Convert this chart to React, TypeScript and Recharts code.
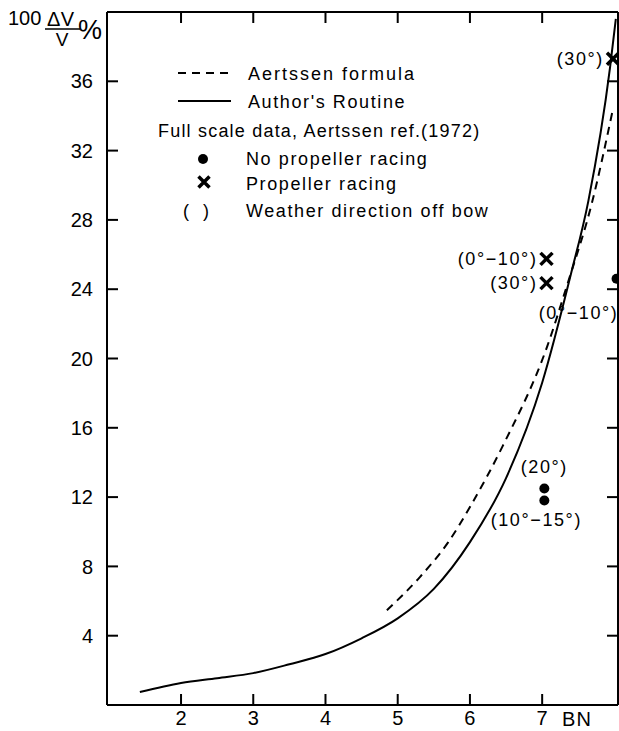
import React from 'react';
import { ComposedChart, Line, Scatter, XAxis, YAxis } from 'recharts';

const FONT = '"Liberation Sans", Arial, Helvetica, sans-serif';

// Beaufort number axis and speed-loss axis
const X_TICKS = [2, 3, 4, 5, 6, 7];
const Y_TICKS = [4, 8, 12, 16, 20, 24, 28, 32, 36];

// Author's routine (solid)
const ROUTINE_BN = [1.43, 2.0, 2.5, 3.0, 3.5, 4.0, 4.5, 5.0, 5.5, 6.0, 6.5, 7.0, 7.4, 7.64, 7.94, 8.02];
const ROUTINE_DV = [0.75, 1.27, 1.55, 1.84, 2.35, 2.94, 3.85, 5.0, 6.7, 9.4, 13.1, 18.6, 24.9, 29.1, 36.8, 39.6];

// Aertssen formula (dashed)
const FORMULA_BN = [4.85, 5.31, 5.7, 6.01, 6.46, 7.07, 7.35, 7.69, 7.97];
const FORMULA_DV = [5.47, 7.4, 9.4, 11.5, 15.0, 20.7, 24.3, 29.0, 34.2];

// full scale data, no propeller racing
const CALM_BN = [7.03, 7.03, 8.03];
const CALM_DV = [12.5, 11.8, 24.6];
const CALM_TAGS = ['(20°)', '(10°−15°)', '(0°−10°)'];
const CALM_PLACE = ['above', 'below', 'belowLeft'];

// full scale data, propeller racing
const RACING_BN = [7.06, 7.06, 7.98];
const RACING_DV = [25.75, 24.35, 37.3];
const RACING_TAGS = ['(0°−10°)', '(30°)', '(30°)'];
const RACING_PLACE = ['left', 'left', 'left'];

const routine = ROUTINE_BN.map((bn, i) => ({ bn, dv: ROUTINE_DV[i] }));
const formula = FORMULA_BN.map((bn, i) => ({ bn, dv: FORMULA_DV[i] }));
const calm = CALM_BN.map((bn, i) => ({ bn, dv: CALM_DV[i], tag: CALM_TAGS[i], place: CALM_PLACE[i] }));
const racing = RACING_BN.map((bn, i) => ({ bn, dv: RACING_DV[i], tag: RACING_TAGS[i], place: RACING_PLACE[i] }));

const X_DOMAIN: [number, number] = [0.975, 8.05];
const Y_DOMAIN: [number, number] = [0, 40];

// chart box and the plot frame that follows from it
const W = 619;
const H = 731;
const MARGIN = { top: 11, right: 0, bottom: 0, left: 47 };
const LEFT_W = 60;
const BOTTOM_H = 26;
const FRAME = {
  left: MARGIN.left + LEFT_W,
  top: MARGIN.top + 1,
  right: W - MARGIN.right - 1,
  bottom: H - MARGIN.bottom - BOTTOM_H,
};
const TICK_PX = 11;

// same linear mapping as the chart axes, used for the inward frame ticks
const sx = (v: number) =>
  FRAME.left + ((v - X_DOMAIN[0]) / (X_DOMAIN[1] - X_DOMAIN[0])) * (FRAME.right - FRAME.left);
const sy = (v: number) =>
  FRAME.bottom - ((v - Y_DOMAIN[0]) / (Y_DOMAIN[1] - Y_DOMAIN[0])) * (FRAME.bottom - FRAME.top);

const tagStyle = { fontFamily: FONT, fontSize: 18, letterSpacing: 1.6, fill: '#000' };
const tickFont = { fontFamily: FONT, fontSize: 20, fill: '#000' };

function BottomLabel({ x, payload }: any) {
  return (
    <text x={x} y={FRAME.bottom + 6} dy="0.71em" textAnchor="middle" style={tickFont}>
      {payload.value}
    </text>
  );
}

function LeftLabel({ y, payload }: any) {
  return (
    <text x={FRAME.left - 14} y={y} dy="0.355em" textAnchor="end" style={tickFont}>
      {payload.value}
    </text>
  );
}

function Tag({ cx, cy, place, text }: { cx: number; cy: number; place: string; text: string }) {
  let x = cx;
  let y = cy + 6;
  let anchor: 'start' | 'middle' | 'end' = 'middle';
  if (place === 'above') {
    y = cy - 15;
  } else if (place === 'below') {
    x = cx - 8;
    y = cy + 25;
  } else if (place === 'belowLeft') {
    x = cx - 38;
    y = cy + 40;
  } else if (place === 'left') {
    x = cx - 9;
    anchor = 'end';
  }
  return (
    <text x={x} y={y} textAnchor={anchor} style={tagStyle}>
      {text}
    </text>
  );
}

function Cross({ x, y, s = 6 }: { x: number; y: number; s?: number }) {
  return (
    <path
      d={`M${x - s},${y - s}L${x + s},${y + s}M${x - s},${y + s}L${x + s},${y - s}`}
      stroke="#000"
      strokeWidth={3.5}
    />
  );
}

function CalmShape(props: any) {
  const { cx, cy, payload } = props;
  return (
    <g>
      <circle cx={cx} cy={cy} r={5} fill="#000" />
      <Tag cx={cx} cy={cy} place={payload.place} text={payload.tag} />
    </g>
  );
}

function RacingShape(props: any) {
  const { cx, cy, payload } = props;
  return (
    <g>
      <Cross x={cx} y={cy} />
      <Tag cx={cx} cy={cy} place={payload.place} text={payload.tag} />
    </g>
  );
}

const axisStroke = { stroke: '#000', strokeWidth: 2 };
const legendText = { fontFamily: FONT, fontSize: 18, letterSpacing: 1.6, fill: '#000' };

export default function App() {
  return (
    <div style={{ position: 'absolute', left: 0, top: 0, width: W, height: H, background: '#fff' }}>
      <ComposedChart width={W} height={H} margin={MARGIN}>
        <XAxis
          xAxisId="b"
          type="number"
          dataKey="bn"
          domain={X_DOMAIN}
          ticks={X_TICKS}
          interval={0}
          allowDataOverflow
          height={BOTTOM_H}
          axisLine={axisStroke}
          tickLine={false}
          tick={BottomLabel}
        />
        <XAxis
          xAxisId="t"
          orientation="top"
          type="number"
          dataKey="bn"
          domain={X_DOMAIN}
          ticks={X_TICKS}
          allowDataOverflow
          height={1}
          axisLine={axisStroke}
          tickLine={false}
          tick={false}
        />
        <YAxis
          yAxisId="l"
          type="number"
          domain={Y_DOMAIN}
          ticks={Y_TICKS}
          interval={0}
          allowDataOverflow
          width={LEFT_W}
          axisLine={axisStroke}
          tickLine={false}
          tick={LeftLabel}
        />
        <YAxis
          yAxisId="r"
          orientation="right"
          type="number"
          domain={Y_DOMAIN}
          ticks={Y_TICKS}
          allowDataOverflow
          width={1}
          axisLine={axisStroke}
          tickLine={false}
          tick={false}
        />
        <Line
          xAxisId="t"
          yAxisId="r"
          data={formula}
          dataKey="dv"
          type="monotone"
          stroke="#000"
          strokeWidth={2}
          strokeDasharray="8 6"
          dot={false}
          isAnimationActive={false}
        />
        <Line
          xAxisId="b"
          yAxisId="l"
          data={routine}
          dataKey="dv"
          type="monotone"
          stroke="#000"
          strokeWidth={2}
          dot={false}
          isAnimationActive={false}
        />
        <Scatter xAxisId="b" yAxisId="l" data={calm} dataKey="dv" shape={CalmShape} isAnimationActive={false} />
        <Scatter xAxisId="b" yAxisId="l" data={racing} dataKey="dv" shape={RacingShape} isAnimationActive={false} />
      </ComposedChart>

      <svg width={W} height={H} style={{ position: 'absolute', left: 0, top: 0, pointerEvents: 'none' }}>
        {/* inward tick marks on all four sides of the frame */}
        <g stroke="#000" strokeWidth={2}>
          {X_TICKS.map((t) => (
            <line key={`b${t}`} x1={sx(t)} x2={sx(t)} y1={FRAME.bottom} y2={FRAME.bottom - TICK_PX} />
          ))}
          {X_TICKS.map((t) => (
            <line key={`t${t}`} x1={sx(t)} x2={sx(t)} y1={FRAME.top} y2={FRAME.top + TICK_PX} />
          ))}
          {Y_TICKS.map((t) => (
            <line key={`l${t}`} x1={FRAME.left} x2={FRAME.left + TICK_PX} y1={sy(t)} y2={sy(t)} />
          ))}
          {Y_TICKS.map((t) => (
            <line key={`r${t}`} x1={FRAME.right - TICK_PX} x2={FRAME.right} y1={sy(t)} y2={sy(t)} />
          ))}
        </g>

        {/* axis title: 100 ΔV/V % */}
        <text x={8} y={25} style={{ fontFamily: FONT, fontSize: 20, fill: '#000' }}>100</text>
        <text x={47} y={26} style={{ fontFamily: FONT, fontSize: 20, letterSpacing: 0.5, fill: '#000' }}>ΔV</text>
        <line x1={45} x2={80} y1={29} y2={29} stroke="#000" strokeWidth={1.5} />
        <text x={62} y={46} textAnchor="middle" style={{ fontFamily: FONT, fontSize: 19, fill: '#000' }}>V</text>
        <text x={78} y={39} style={{ fontFamily: FONT, fontSize: 27, fill: '#000' }}>%</text>

        {/* legend */}
        <line x1={178} x2={230} y1={73} y2={73} stroke="#000" strokeWidth={2} strokeDasharray="8 6" />
        <text x={248} y={79.5} style={{ ...legendText, letterSpacing: 2 }}>Aertssen formula</text>
        <line x1={178} x2={231} y1={101} y2={101} stroke="#000" strokeWidth={2} />
        <text x={248} y={107.5} style={legendText}>Author's Routine</text>
        <text x={158} y={136.5} style={{ ...legendText, letterSpacing: 1.2 }}>Full scale data, Aertssen ref.(1972)</text>
        <circle cx={203} cy={159} r={5} fill="#000" />
        <text x={246} y={164.5} style={legendText}>No propeller racing</text>
        <Cross x={204} y={182} s={5.5} />
        <text x={246} y={189.5} style={legendText}>Propeller racing</text>
        <text x={203} y={217} textAnchor="middle" style={{ ...legendText, letterSpacing: 14 }}>()</text>
        <text x={246} y={217} style={legendText}>Weather direction off bow</text>

        <text x={577} y={FRAME.bottom + 21} textAnchor="middle" style={{ fontFamily: FONT, fontSize: 20, letterSpacing: 1, fill: '#000' }}>BN</text>
      </svg>
    </div>
  );
}
